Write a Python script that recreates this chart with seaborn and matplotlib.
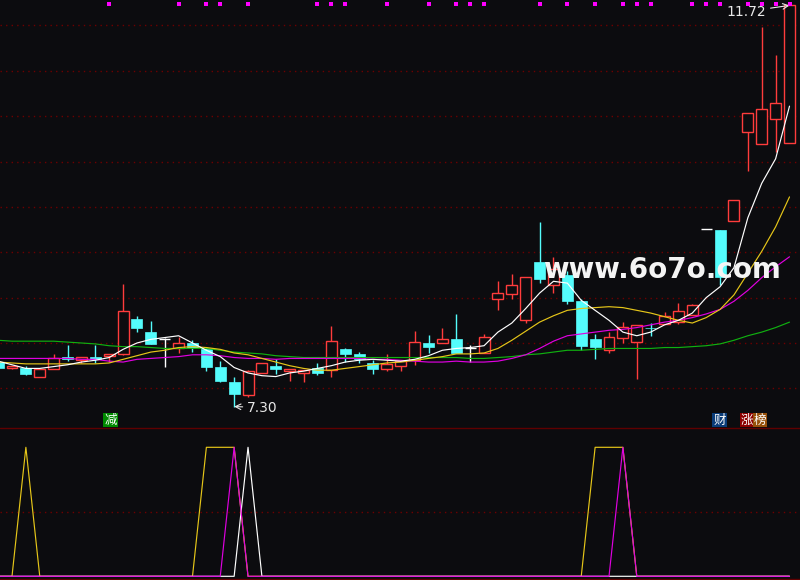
import numpy as np
import pandas as pd
import matplotlib
matplotlib.use("Agg")
import matplotlib.pyplot as plt
import seaborn as sns

# trading days, -1 is the half-clipped candle on the left edge
days = list(range(-1, 57))

opens = [7.79, 7.73, 7.73, 7.63, 7.71, 7.85, 7.81, 7.85, 7.86, 7.88,
         8.26, 8.12, 8.04, 7.95, 8.00, 7.93, 7.74, 7.57, 7.43, 7.67,
         7.75, 7.69, 7.67, 7.72, 7.70, 7.93, 7.88, 7.78, 7.71, 7.75,
         7.81, 8.00, 8.00, 8.04, 7.95, 7.89, 8.49, 8.54, 8.25, 8.89,
         8.64, 8.75, 8.46, 8.04, 7.92, 8.06, 8.01, 8.17, 8.21, 8.23,
         8.31, 9.26, 9.25, 9.34, 10.32, 10.19, 10.47, 10.20]
closes = [7.73, 7.75, 7.66, 7.71, 7.84, 7.82, 7.85, 7.82, 7.88, 8.35,
          8.17, 7.99, 8.04, 8.00, 7.95, 7.74, 7.58, 7.44, 7.69, 7.78,
          7.71, 7.71, 7.70, 7.67, 8.02, 7.88, 7.82, 7.71, 7.77, 7.80,
          8.01, 7.96, 8.04, 7.89, 7.95, 8.07, 8.55, 8.64, 8.73, 8.71,
          8.82, 8.46, 7.97, 7.96, 8.07, 8.18, 8.20, 8.16, 8.30, 8.35,
          8.42, 9.26, 8.73, 9.58, 10.53, 10.58, 10.64, 11.72]
highs = [7.80, 7.75, 7.75, 7.71, 7.88, 7.98, 7.85, 7.98, 7.88, 8.65,
         8.30, 8.24, 8.05, 8.07, 8.03, 7.96, 7.80, 7.62, 7.70, 7.78,
         7.82, 7.71, 7.70, 7.78, 8.19, 7.94, 7.90, 7.81, 7.88, 7.81,
         8.13, 8.09, 8.17, 8.32, 7.98, 8.10, 8.68, 8.76, 8.73, 9.33,
         8.95, 8.79, 8.48, 8.10, 8.12, 8.23, 8.20, 8.22, 8.34, 8.44,
         8.43, 9.26, 9.25, 9.58, 10.53, 11.48, 11.17, 11.72]
lows = [7.72, 7.71, 7.65, 7.62, 7.71, 7.80, 7.78, 7.78, 7.79, 7.87,
        8.12, 7.99, 7.74, 7.89, 7.90, 7.69, 7.57, 7.30, 7.41, 7.67,
        7.66, 7.58, 7.57, 7.65, 7.63, 7.79, 7.78, 7.66, 7.69, 7.69,
        7.76, 7.89, 8.00, 7.89, 7.79, 7.89, 8.36, 8.49, 8.22, 8.66,
        8.55, 8.43, 7.92, 7.82, 7.89, 8.00, 7.60, 8.08, 8.21, 8.21,
        8.31, 9.26, 8.64, 9.34, 9.90, 10.19, 10.11, 10.20]

ma5 = [7.80, 7.76, 7.72, 7.72, 7.74, 7.76, 7.79, 7.81, 7.84, 7.93,
       8.00, 8.04, 8.06, 8.08, 8.00, 7.92, 7.85, 7.73, 7.67, 7.64,
       7.63, 7.67, 7.69, 7.72, 7.75, 7.79, 7.81, 7.82, 7.81, 7.80,
       7.82, 7.86, 7.92, 7.94, 7.95, 7.97, 8.12, 8.22, 8.38, 8.55,
       8.68, 8.66, 8.47, 8.36, 8.25, 8.12, 8.08, 8.12, 8.20, 8.25,
       8.33, 8.50, 8.62, 8.83, 9.38, 9.76, 10.03, 10.61]
ma10 = [7.79, 7.78, 7.77, 7.77, 7.77, 7.77, 7.77, 7.77, 7.78, 7.82,
        7.86, 7.90, 7.92, 7.95, 7.96, 7.95, 7.93, 7.89, 7.87, 7.83,
        7.79, 7.75, 7.72, 7.70, 7.70, 7.72, 7.74, 7.76, 7.78, 7.79,
        7.81, 7.83, 7.85, 7.88, 7.88, 7.89, 7.94, 8.03, 8.13, 8.23,
        8.30, 8.36, 8.38, 8.39, 8.40, 8.39, 8.36, 8.33, 8.29, 8.25,
        8.22, 8.28, 8.37, 8.53, 8.77, 9.01, 9.28, 9.61]
ma20 = [7.83, 7.83, 7.83, 7.83, 7.83, 7.83, 7.82, 7.82, 7.80, 7.79,
        7.82, 7.83, 7.84, 7.85, 7.87, 7.87, 7.86, 7.84, 7.83, 7.83,
        7.82, 7.83, 7.83, 7.83, 7.83, 7.83, 7.83, 7.82, 7.82, 7.81,
        7.80, 7.79, 7.79, 7.80, 7.79, 7.79, 7.80, 7.83, 7.87, 7.94,
        8.02, 8.08, 8.10, 8.12, 8.14, 8.15, 8.17, 8.20, 8.23, 8.25,
        8.28, 8.32, 8.37, 8.46, 8.58, 8.72, 8.84, 8.95]
ma60 = [8.03, 8.02, 8.02, 8.02, 8.02, 8.01, 8.00, 7.99, 7.97, 7.96,
        7.96, 7.95, 7.94, 7.94, 7.94, 7.94, 7.92, 7.90, 7.89, 7.88,
        7.86, 7.85, 7.84, 7.84, 7.84, 7.84, 7.84, 7.84, 7.84, 7.84,
        7.84, 7.84, 7.84, 7.84, 7.83, 7.83, 7.84, 7.85, 7.87, 7.88,
        7.90, 7.92, 7.92, 7.93, 7.94, 7.94, 7.94, 7.94, 7.95, 7.95,
        7.96, 7.97, 7.99, 8.03, 8.08, 8.12, 8.17, 8.23]

# lower indicator panel (0 / 1 signals)
sig_yellow = [0, 0, 1, 0, 0, 0, 0, 0, 0, 0,
              0, 0, 0, 0, 0, 1, 1, 1, 0, 0,
              0, 0, 0, 0, 0, 0, 0, 0, 0, 0,
              0, 0, 0, 0, 0, 0, 0, 0, 0, 0,
              0, 0, 0, 1, 1, 1, 0, 0, 0, 0,
              0, 0, 0, 0, 0, 0, 0, 0]
sig_white = [0, 0, 0, 0, 0, 0, 0, 0, 0, 0,
             0, 0, 0, 0, 0, 0, 0, 0, 1, 0,
             0, 0, 0, 0, 0, 0, 0, 0, 0, 0,
             0, 0, 0, 0, 0, 0, 0, 0, 0, 0,
             0, 0, 0, 0, 0, 0, 0, 0, 0, 0,
             0, 0, 0, 0, 0, 0, 0, 0]
sig_magenta = [0, 0, 0, 0, 0, 0, 0, 0, 0, 0,
               0, 0, 0, 0, 0, 0, 0, 1, 0, 0,
               0, 0, 0, 0, 0, 0, 0, 0, 0, 0,
               0, 0, 0, 0, 0, 0, 0, 0, 0, 0,
               0, 0, 0, 0, 0, 1, 0, 0, 0, 0,
               0, 0, 0, 0, 0, 0, 0, 0]

# days marked by the little magenta squares along the top
top_marks = [7, 12, 14, 15, 17, 22, 23, 24, 27, 30, 32, 33, 34, 38, 40,
             42, 44, 45, 46, 49, 50, 51, 53, 54, 55, 56]
price_grid = [7.5, 8.0, 8.5, 9.0, 9.5, 10.0, 10.5, 11.0, 11.5]

BG = "#0c0c0f"
RED = "#ff3c3c"
CYAN = "#54fcfc"
GRID = "#6e0000"
LW = 0.85

sns.set_theme(style="dark", rc={"axes.facecolor": BG, "figure.facecolor": BG})
plt.rcParams['font.family'] = ['Noto Sans CJK SC', 'DejaVu Sans']

df = pd.DataFrame({"day": days, "open": opens, "close": closes,
                   "high": highs, "low": lows})
up = df[df.close > df.open]
down = df[df.close < df.open]
flat = df[df.close == df.open]

fig = plt.figure(figsize=(8, 5.8), dpi=100)
ax = fig.add_axes([0, 153 / 580, 1, 427 / 580])
ax2 = fig.add_axes([0, 0, 1, 153 / 580])
for a in (ax, ax2):
    a.axis("off")
    a.set_xlim(-0.864, 56.756)
ax.set_ylim(8 - 84 / 90.75, 8 + 343 / 90.75)
ax2.set_ylim(-0.0287, 1.1574)

for p in price_grid:
    ax.axhline(p, color=GRID, lw=1, ls=(0, (1, 3)), zorder=1)

# candles
w = 0.79
ax.vlines(up.day, up.low, up.high, color=RED, lw=1, zorder=2)
ax.vlines(down.day, down.low, down.high, color=CYAN, lw=1, zorder=2)
ax.vlines(flat.day, flat.low, flat.high, color="white", lw=1, zorder=2)
ax.bar(up.day, up.close - up.open, bottom=up.open, width=w,
       facecolor=BG, edgecolor=RED, lw=1, zorder=3)
ax.bar(down.day, down.open - down.close, bottom=down.close, width=w,
       color=CYAN, edgecolor=CYAN, lw=0.5, zorder=3)
ax.hlines(flat.close, flat.day - w / 2, flat.day + w / 2, color="white", lw=1, zorder=3)

# moving averages
sns.lineplot(x=days, y=ma60, ax=ax, color="#10b010", lw=LW, zorder=4)
sns.lineplot(x=days, y=ma20, ax=ax, color="#e000e0", lw=LW, zorder=4)
sns.lineplot(x=days, y=ma10, ax=ax, color="#e6c619", lw=LW, zorder=4)
sns.lineplot(x=days, y=ma5, ax=ax, color="white", lw=LW, zorder=4)

ax.scatter(top_marks, [11.732] * len(top_marks), marker="s", s=6,
           color="#ff00ff", linewidths=0, zorder=5)

ax.annotate("11.72", xy=(56, 11.72), xytext=(-17, -4.5), textcoords="offset points",
            ha="right", va="center", color="#e8e8e8", fontsize=10,
            family="DejaVu Sans",
            arrowprops=dict(arrowstyle="->", color="#e8e8e8", lw=0.8,
                            shrinkA=1, shrinkB=0))
ax.annotate("7.30", xy=(16, 7.30), xytext=(9.5, -0.8), textcoords="offset points",
            ha="left", va="center", color="#e8e8e8", fontsize=10,
            family="DejaVu Sans",
            arrowprops=dict(arrowstyle="->", color="#e8e8e8", lw=0.8,
                            shrinkA=1, shrinkB=0))

# watermark
fig.text(543 / 800, 1 - 278 / 580, "www.6o7o.com", color="#f4f4f4",
         fontsize=20, fontweight="bold", family="DejaVu Sans",
         ha="left", va="baseline", zorder=10)

# little tags under the main panel
tags = [("减", 110.5, "#008a00"), ("财", 719.5, "#0a3c78"),
        ("涨", 747, "#8c0000"), ("榜", 760, "#96500a")]
for txt, xp, bg in tags:
    fig.text(xp / 800, 1 - 420 / 580, txt, color="white", fontsize=9,
             ha="center", va="center",
             bbox=dict(facecolor=bg, edgecolor="none", pad=0.6))

# lower panel
ax2.axhline(1.1535, color="#600000", lw=1)
ax2.axhline(-0.021, color="#600000", lw=1)
ax2.axhline(0.5, color=GRID, lw=1, ls=(0, (1, 3)))
sns.lineplot(x=days, y=sig_yellow, ax=ax2, color="#e6c619", lw=LW)
sns.lineplot(x=days, y=sig_white, ax=ax2, color="white", lw=LW)
sns.lineplot(x=days, y=sig_magenta, ax=ax2, color="#e000e0", lw=LW)

fig.savefig("out.png", dpi=100, facecolor=BG)
